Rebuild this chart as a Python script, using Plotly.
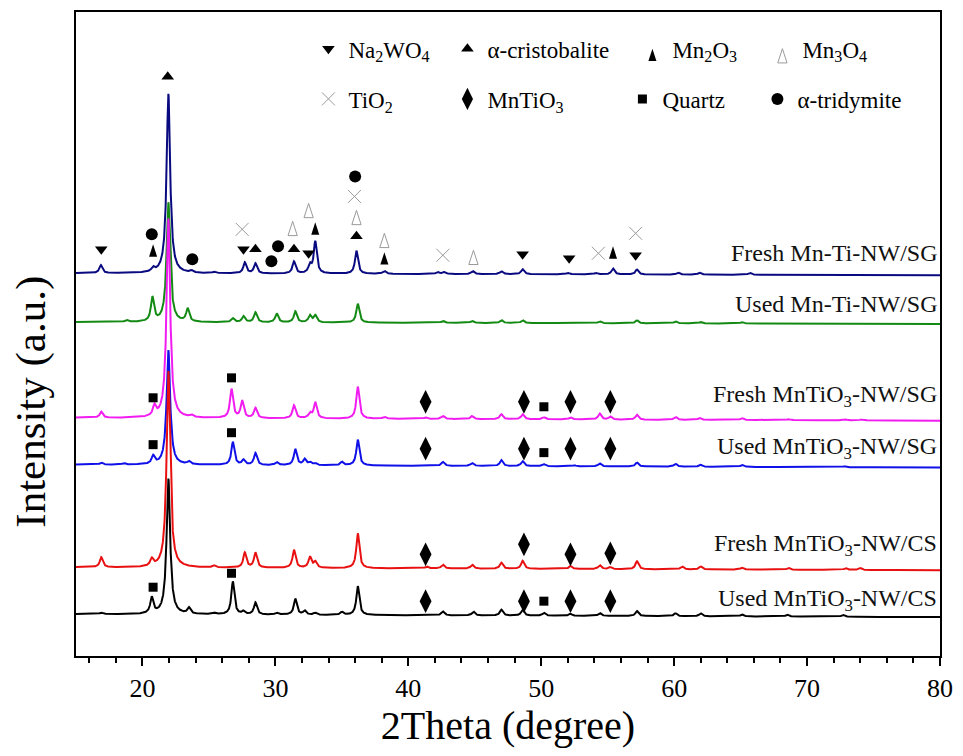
import numpy as np
import plotly.graph_objects as go

# ---------------- data ----------------
samples = ["Fresh Mn-Ti-NW/SG", "Used Mn-Ti-NW/SG", "Fresh MnTiO<sub>3</sub>-NW/SG",
           "Used MnTiO<sub>3</sub>-NW/SG", "Fresh MnTiO<sub>3</sub>-NW/CS", "Used MnTiO<sub>3</sub>-NW/CS"]
colors = ["#0a0a80", "#138a13", "#f01cf0", "#1010e8", "#e81010", "#000000"]
base_left = [384, 335, 239, 192, 89, 42]
base_right = [382, 333, 236, 189, 86, 39]
label_y = [404, 353, 261, 209, 111, 56]

navy_pos = [16.87, 20.8, 21.95, 23.7, 25.4, 27.7, 28.5, 31.4, 32.6, 33.0, 36.1, 38.2, 42.2, 42.7,
            44.85, 47.0, 48.6, 52.0, 54.1, 55.4, 57.2, 60.3, 61.9, 65.7]
navy_int = [8, 4, 180, 2, 1.5, 11, 10, 12, 8, 32, 23, 3, 2, 2, 3, 3, 5, 1.5, 1.5, 6, 5, 2, 2, 2]

green_pos = [18.8, 20.75, 21.95, 23.4, 26.8, 27.6, 28.5, 30.1, 31.5, 32.6, 33.0, 36.2, 42.6, 44.8,
             47.0, 48.6, 54.4, 57.2, 60.1, 62.0, 65.1]
green_int = [2, 24, 120, 13, 4, 6, 10, 9, 11, 7, 7, 19, 2, 2, 3, 3, 2, 3, 2, 1.5, 1.5]

magenta_pos = [16.9, 20.9, 21.95, 23.7, 26.7, 27.5, 28.5, 31.4, 32.6, 33.0, 36.2, 38.2, 41.3, 42.6,
               44.8, 47.0, 48.6, 50.2, 52.2, 54.4, 55.2, 57.2, 60.1, 61.9, 65.1, 68.6, 72.9, 74.1]
magenta_int = [6, 10, 200, 2, 29, 17, 10, 13, 5, 16, 32, 2, 1.5, 3, 3, 5, 5, 2, 2, 6, 3, 5, 3, 2, 2,
               1, 1, 1]

blue_pos = [16.9, 18.6, 20.8, 21.95, 23.5, 26.8, 27.6, 28.5, 30.1, 31.5, 32.2, 32.6, 33.0, 35.0, 36.2,
            42.6, 44.8, 47.0, 48.6, 50.2, 52.5, 54.4, 57.2, 60.1, 62.0, 65.1, 72.8]
blue_int = [2, 1.5, 8, 115, 3, 23, 5, 12, 3, 16, 6, 3, 2, 3.5, 26, 4, 3, 6, 5, 2, 1, 3, 4, 3, 2, 2, 1]

red_pos = [16.9, 20.7, 21.95, 25.4, 27.7, 28.5, 31.4, 32.6, 33.0, 36.2, 41.4, 42.6, 44.8, 47.0, 48.6,
           52.2, 54.4, 55.2, 57.2, 60.6, 62.0, 65.1, 68.6, 72.9, 74.0]
red_int = [10, 7, 197, 2, 15, 15, 18, 11, 6, 35, 2, 4, 4, 6, 8, 3, 4, 2, 8, 3, 3, 2, 2, 2, 2]

black_pos = [16.9, 20.7, 21.95, 23.5, 25.4, 26.8, 27.6, 28.5, 30.1, 31.5, 32.2, 33.0, 35.0, 36.2,
             42.6, 44.9, 47.0, 48.6, 50.2, 52.2, 54.4, 57.2, 60.1, 62.0, 65.1, 68.5, 72.7]
black_int = [1.5, 16, 136, 6, 1.5, 33, 3, 12, 2, 16, 4, 2, 3, 29, 4, 4, 6, 6, 3, 2, 3, 5, 3, 3, 2, 2, 2]

peak_pos = [navy_pos, green_pos, magenta_pos, blue_pos, red_pos, black_pos]
peak_int = [navy_int, green_int, magenta_int, blue_int, red_int, black_int]

# phase markers (Mn2O3 / Mn3O4 given at the arrow tip)
phase_names = ["Na<sub>2</sub>WO<sub>4</sub>", "α-cristobalite", "Mn<sub>2</sub>O<sub>3</sub>",
               "Mn<sub>3</sub>O<sub>4</sub>", "TiO<sub>2</sub>", "MnTiO<sub>3</sub>", "Quartz",
               "α-tridymite"]
na2wo4_x = [16.9, 27.6, 32.5, 48.6, 52.1, 57.1]
na2wo4_y = [408, 408, 404, 403, 399, 402]
crist_x = [21.9, 28.5, 31.4, 36.1]
crist_y = [581, 408, 408, 421]
mn2o3_x = [20.8, 33.0, 38.2, 55.4]
mn2o3_y = [413, 435, 405, 411]
mn3o4_x = [31.3, 32.5, 36.1, 38.2, 44.9]
mn3o4_y = [436, 454, 447, 424, 407]
tio2_x = [27.5, 35.95, 42.6, 54.3, 57.1]
tio2_y = [428, 461, 402, 404, 424]
mntio3_x = [41.3, 48.7, 52.2, 55.2, 41.3, 48.7, 52.2, 55.2, 41.3, 48.7, 52.2, 55.2, 41.3, 48.7, 52.2, 55.2]
mntio3_y = [255, 255, 255, 255, 208, 208, 208, 208, 102, 112, 102, 103, 55, 55, 55, 55]
quartz_x = [20.8, 26.7, 50.2, 20.8, 26.7, 50.2, 20.8, 26.7, 50.2]
quartz_y = [259, 279, 250, 212, 224, 204, 69, 83, 55]
trid_x = [20.7, 23.75, 29.7, 30.2, 36.0]
trid_y = [423, 398, 396, 411, 481]

x_ticks = [20, 30, 40, 50, 60, 70, 80]

# ---------------- figure ----------------
FONT = "Liberation Serif"
tt = np.linspace(15, 80, 6501)
fig = go.Figure()

for i in range(6):
    y = base_left[i] + (base_right[i] - base_left[i]) * (tt - 15) / 65
    for p, h in zip(peak_pos[i], peak_int[i]):
        w = 0.32 if h > 60 else 0.27
        y = y + h / (1 + (2 * (tt - p) / w) ** 2)
    fig.add_trace(go.Scatter(x=tt, y=y, mode="lines", line=dict(color=colors[i], width=2),
                             showlegend=False, hoverinfo="skip"))

GRAY = "#9a9a9a"
phase_specs = [
    (na2wo4_x, na2wo4_y, dict(symbol="triangle-down", size=11, color="black"), "legend", 94),
    (crist_x, crist_y, dict(symbol="triangle-up", size=11, color="black"), "legend", 140),
    (mn2o3_x, mn2o3_y, dict(symbol="arrow", size=13, color="black"), "legend", 85),
    (mn3o4_x, mn3o4_y, dict(symbol="arrow-open", size=15, color=GRAY,
                            line=dict(color=GRAY, width=1)), "legend", 80),
    (tio2_x, tio2_y, dict(symbol="x-thin-open", size=13, color=GRAY,
                          line=dict(color=GRAY, width=1)), "legend2", 94),
    (mntio3_x, mntio3_y, dict(symbol="diamond-tall", size=17, color="black"), "legend2", 130),
    (quartz_x, quartz_y, dict(symbol="square", size=9, color="black"), "legend2", 90),
    (trid_x, trid_y, dict(symbol="circle", size=12, color="black"), "legend2", 100),
]
for (px, py, mk, lg, lw), name in zip(phase_specs, phase_names):
    fig.add_trace(go.Scatter(x=px, y=py, mode="markers", marker=mk, name=name,
                             legend=lg, legendwidth=lw, hoverinfo="skip"))

for i in range(6):
    fig.add_annotation(x=79.95, y=label_y[i], text=samples[i], showarrow=False, xanchor="right",
                       yanchor="middle", font=dict(family=FONT, size=24, color="#111"))

# y-axis title (sits a little below the plot centre in the reference)
fig.add_annotation(xref="paper", yref="paper", x=-0.052, y=0.395, text="Intensity (a.u.)",
                   textangle=-90, showarrow=False, xanchor="center", yanchor="middle",
                   font=dict(family=FONT, size=43, color="black"))

fig.update_layout(
    width=963, height=756,
    margin=dict(l=76, r=17, t=10, b=100),
    paper_bgcolor="white", plot_bgcolor="white",
    font=dict(family=FONT, color="black"),
    legend=dict(orientation="h", x=0.269, y=0.943, xanchor="left", yanchor="middle",
                font=dict(family=FONT, size=23), bgcolor="rgba(0,0,0,0)", itemwidth=30),
    legend2=dict(orientation="h", x=0.269, y=0.865, xanchor="left", yanchor="middle",
                 font=dict(family=FONT, size=23), bgcolor="rgba(0,0,0,0)", itemwidth=30),
    xaxis=dict(range=[15, 80], tickvals=x_ticks, ticks="outside", ticklen=8, tickwidth=2,
               tickcolor="black", showline=True, linewidth=2, linecolor="black", mirror=True,
               showgrid=False, zeroline=False, tickfont=dict(family=FONT, size=26),
               minor=dict(dtick=2, tick0=16, ticks="outside", ticklen=5, tickwidth=2,
                          tickcolor="black"),
               title=dict(text="2Theta (degree)", font=dict(family=FONT, size=40), standoff=6)),
    yaxis=dict(range=[0, 646], showticklabels=False, ticks="", showline=True, linewidth=2,
               linecolor="black", mirror=True, showgrid=False, zeroline=False),
)

fig.write_html("out.html")
